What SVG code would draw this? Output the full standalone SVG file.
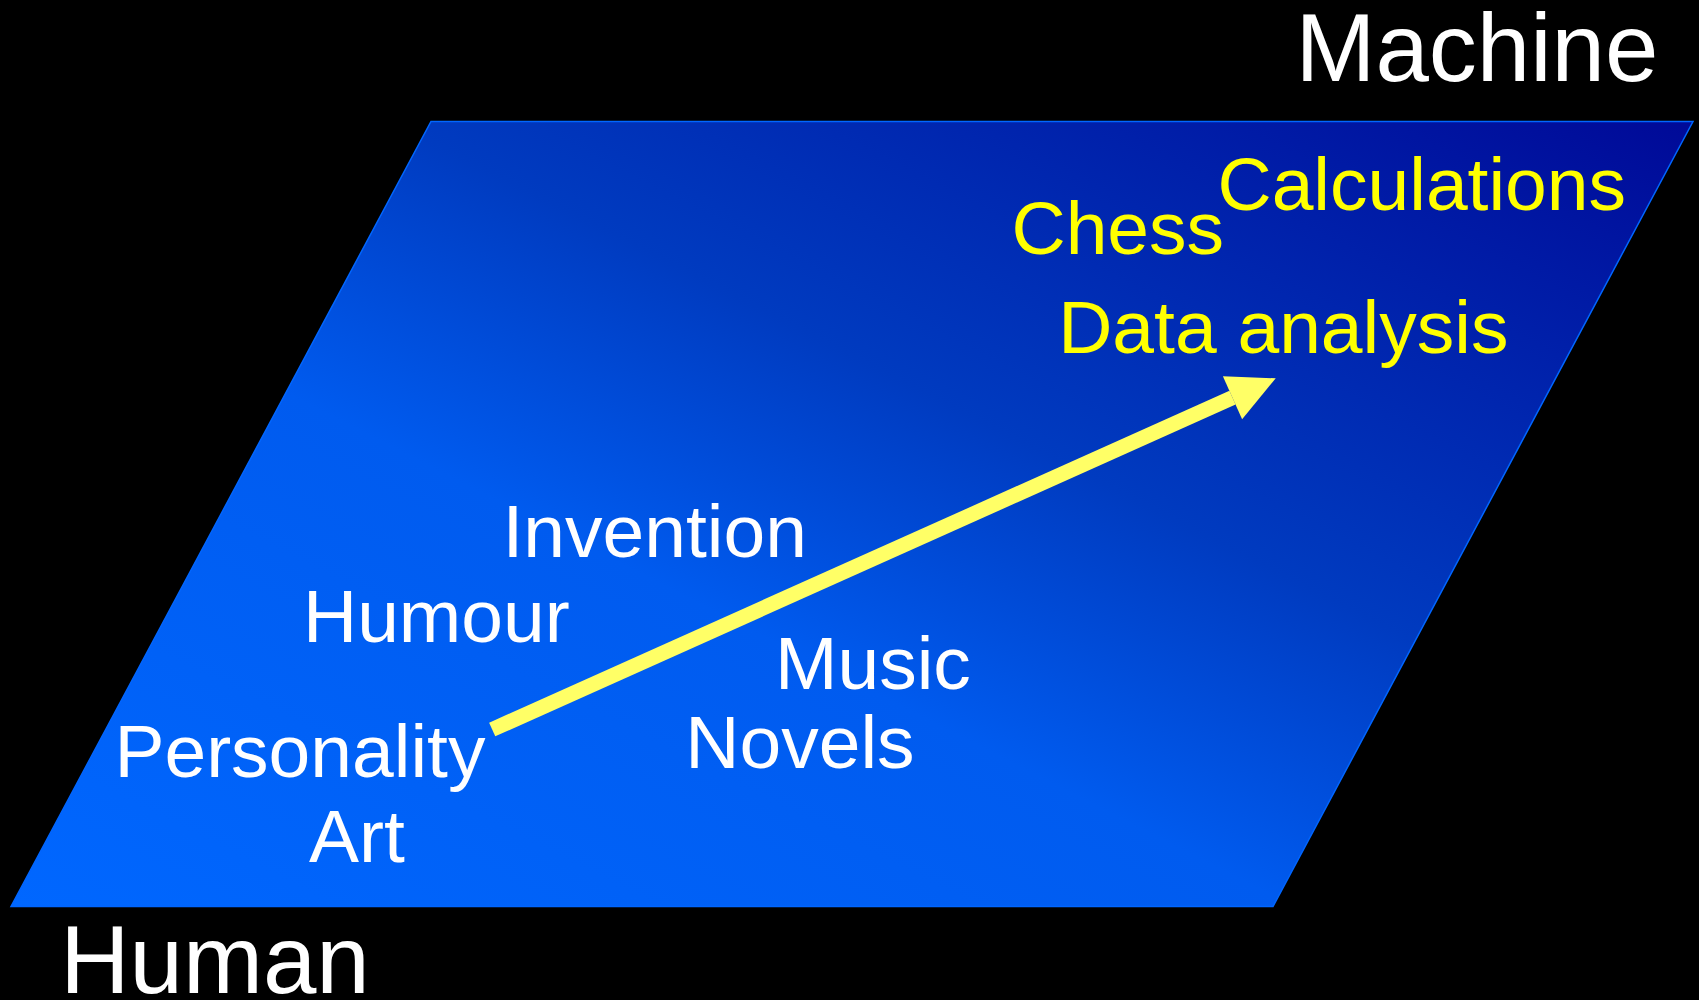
<svg xmlns="http://www.w3.org/2000/svg" width="1699" height="1000" viewBox="0 0 1699 1000">
  <style>
    text { font-family: "Liberation Sans", Arial, sans-serif; }
    .big { font-size: 96px; fill: #FFFFFF; }
    .w { font-size: 75px; fill: #FFFFFF; }
    .y { font-size: 75px; fill: #FFFF00; }
    .conn { stroke: #FFFF66; stroke-width: 15; fill: none; stroke-linecap: butt; }
  </style>
  <defs>
    <linearGradient id="plane" gradientUnits="userSpaceOnUse" x1="320" y1="1063" x2="980" y2="-232">
      <stop offset="0" stop-color="#0067FF"/>
      <stop offset="0.4" stop-color="#005BEF"/>
      <stop offset="0.6" stop-color="#003BC0"/>
      <stop offset="1" stop-color="#000A98"/>
    </linearGradient>
    <marker id="head" markerUnits="userSpaceOnUse" markerWidth="50" markerHeight="50" refX="0" refY="25" orient="auto" overflow="visible">
      <path d="M0,1.5 L47.4,25 L0,48.5 Z" fill="#FFFF66"/>
    </marker>
  </defs>
  <rect x="0" y="0" width="1699" height="1000" fill="#000000"/>

  <g id="plane-node">
    <polygon points="431,121.5 1693,121.5 1273,906.5 11,906.5" fill="url(#plane)" stroke="#0066FF" stroke-width="1.5"/>
  </g>

  <g id="connectors">
    <line class="conn" x1="492.2" y1="729.5" x2="1232.5" y2="397.7" marker-end="url(#head)"/>
  </g>

  <g id="machine"><text class="big" x="1295.5" y="81">Machine</text></g>
  <g id="human"><text class="big" x="60.2" y="993.3">Human</text></g>
  <g id="calculations"><text class="y" x="1217.5" y="210">Calculations</text></g>
  <g id="chess"><text class="y" x="1011.5" y="254">Chess</text></g>
  <g id="data-analysis"><text class="y" x="1058.2" y="353.3">Data analysis</text></g>
  <g id="invention"><text class="w" x="502.5" y="557.3">Invention</text></g>
  <g id="humour"><text class="w" x="303" y="641.7">Humour</text></g>
  <g id="music"><text class="w" x="775" y="689.3">Music</text></g>
  <g id="novels"><text class="w" x="685.3" y="768.3">Novels</text></g>
  <g id="personality"><text class="w" x="114.4" y="776.7">Personality</text></g>
  <g id="art"><text class="w" x="309" y="861.7">Art</text></g>
</svg>
